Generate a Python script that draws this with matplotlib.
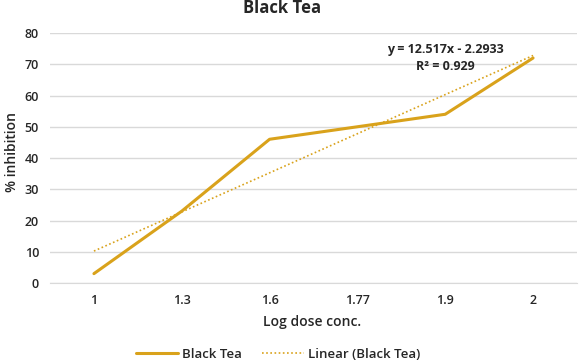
import numpy as np
import matplotlib as mpl
mpl.use('Agg')
import matplotlib.pyplot as plt

plt.rcParams['font.family'] = ['Open Sans', 'DejaVu Sans']

doses = ['1', '1.3', '1.6', '1.77', '1.9', '2']
inhibition = [3, 23, 46, 50, 54, 72]
slope, intercept = 12.517, -2.2933
r2 = 0.929

gold = '#D9A21B'
txt = '#262626'

fig = plt.figure(figsize=(5.79, 3.62), dpi=100)
ax = fig.add_axes([0.0864, 0.2182, 0.9101, 0.6906])

x = np.arange(1, len(doses) + 1)
ax.plot(x, inhibition, color=gold, lw=2.2, label='Black Tea', solid_capstyle='round')
ax.plot(x, slope * x + intercept, color=gold, lw=1.2, ls=(0, (1, 1.5)), label='Linear (Black Tea)')

ax.set_xlim(0.5, len(doses) + 0.5)
ax.set_ylim(0, 80)
ax.set_yticks(range(0, 81, 10))
ax.set_xticks(x)
ax.set_xticklabels(doses)
ax.grid(axis='y', color='#D9D9D9', lw=1)
ax.set_axisbelow(True)
for s in ['top', 'right', 'left']:
    ax.spines[s].set_visible(False)
ax.spines['bottom'].set_color('#D9D9D9')
ax.tick_params(length=0, labelsize=9, colors=txt, pad=8)
for lab in ax.get_yticklabels() + ax.get_xticklabels():
    lab.set_fontweight('semibold')

fig.text(0.487, 0.978, 'Black Tea', ha='center', va='center', fontsize=12, fontweight='bold', color=txt)
fig.text(0.02, 0.58, '% inhibition', rotation=90, ha='center', va='center', fontsize=10,
         fontweight='semibold', color=txt)
fig.text(0.539, 0.11, 'Log dose conc.', ha='center', va='center', fontsize=10,
         fontweight='semibold', color=txt)

ax.text(5.0, 72.0, 'y = 12.517x - 2.2933\nR\u00b2 = 0.929', ha='center', va='center',
        fontsize=9, fontweight='bold', color=txt, linespacing=1.4)

leg = fig.legend(loc='center', bbox_to_anchor=(0.48, 0.022), ncol=2, frameon=False,
                 fontsize=9.5, handlelength=3.2, handletextpad=0.3, columnspacing=1.5)
for t in leg.get_texts():
    t.set_color(txt)
    t.set_fontweight('semibold')

fig.savefig('out.png', dpi=100)
